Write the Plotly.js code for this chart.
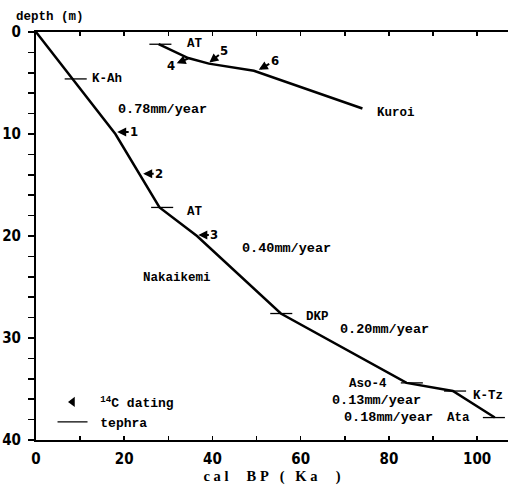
<!DOCTYPE html>
<html>
<head>
<meta charset="utf-8">
<script src="https://cdn.plot.ly/plotly-3.0.1.min.js"></script>
<style>html,body{margin:0;padding:0;background:#fff;}#chart{width:509px;height:490px;}</style>
</head>
<body>
<div id="chart"></div>
<script>
// ---- data ----
const nakaikemiAge   = [0, 18, 28, 36.5, 55.5, 84, 94.5, 104];
const nakaikemiDepth = [0, 10, 17.2, 20, 27.6, 34.4, 35.2, 37.8];
const kuroiAge   = [27.8, 34.5, 39.2, 49.4, 74];
const kuroiDepth = [1.2, 2.55, 3.1, 3.8, 7.5];
const tephraName  = ['AT', 'K-Ah', 'AT', 'DKP', 'Aso-4', 'K-Tz', 'Ata'];
const tephraAge   = [28.2, 9, 28.6, 55.6, 85.2, 95, 103.8];
const tephraDepth = [1.2, 4.6, 17.2, 27.6, 34.4, 35.2, 37.8];
const datingId    = ['1', '2', '3', '4', '5', '6'];
const datingAge   = [18.4, 24.3, 36.8, 34.5, 39.3, 50.5];
const datingDepth = [9.8, 13.9, 19.9, 2.6, 3.0, 3.7];
const rateText  = ['0.78mm/year', '0.40mm/year', '0.20mm/year', '0.13mm/year', '0.18mm/year'];
const siteNames = ['Nakaikemi', 'Kuroi'];
const xTickVals = [0, 10, 20, 30, 40, 50, 60, 70, 80, 90, 100];
const xTickText = ['0', '', '20', '', '40', '', '60', '', '80', '', '100'];
const yTickVals = [0, 2, 4, 6, 8, 10, 12, 14, 16, 18, 20, 22, 24, 26, 28, 30, 32, 34, 36, 38, 40];
const yTickText = ['0', '', '', '', '', '10', '', '', '', '', '20', '', '', '', '', '30', '', '', '', '', '40'];

// ---- styles / placement ----
const mono = 'Liberation Mono, DejaVu Sans Mono, monospace';
const serif = 'Liberation Serif, DejaVu Serif, serif';
const narrow = 'DejaVu Sans Condensed, Liberation Sans, sans-serif';
const labelFont = {family: mono, size: 12.5, color: '#000', weight: 'bold'};
const rateFont = {family: mono, size: 13.5, color: '#000', weight: 'bold'};
const tephraHalf = 2.5;
const tephraShift = [[35, 0], [31, 0], [33, 5], [36, 3], [-44, 1], [33, 5], [-35, 0]];
const datingOffset = [[17, 0], [16, 0], [16, 0], [-17, 7], [15, -12], [16, -9]];
const datingSide = ['end', 'end', 'end', 'start', 'end', 'end'];
const ratePos = [[28.6, 7.55], [56.8, 21.2], [78.9, 29.2], [77.3, 36.1], [80, 37.8]];
const sitePos = [[32, 24.1], [81.6, 7.9]];
const nb = n => '\u00a0'.repeat(n);

// tephra bars built from tephra arrays
const tx = [], ty = [];
tephraAge.forEach((a, i) => { tx.push(a - tephraHalf, a + tephraHalf, null); ty.push(tephraDepth[i], tephraDepth[i], null); });

const traces = [
  {x: nakaikemiAge, y: nakaikemiDepth, mode: 'lines', line: {color: '#000', width: 2.5}, showlegend: false, hoverinfo: 'skip'},
  {x: kuroiAge, y: kuroiDepth, mode: 'lines', line: {color: '#000', width: 2.5}, showlegend: false, hoverinfo: 'skip'},
  {x: tx, y: ty, mode: 'lines', line: {color: '#000', width: 1.3}, showlegend: false, hoverinfo: 'skip'},
  {x: [null], y: [null], mode: 'markers', name: '\u00a0<sup>14</sup>C dating', marker: {symbol: 'triangle-left', size: 9, color: '#000'}},
  {x: [null], y: [null], mode: 'lines', name: '\u00a0tephra', line: {color: '#000', width: 1.3}}
];

const annotations = [];
tephraName.forEach((n, i) => annotations.push({x: tephraAge[i], y: tephraDepth[i], text: n, showarrow: false, xshift: tephraShift[i][0], yshift: -tephraShift[i][1], font: labelFont}));
datingId.forEach((n, i) => annotations.push({x: datingAge[i], y: datingDepth[i], text: n, showarrow: true, arrowhead: 2, arrowside: datingSide[i], startarrowhead: 2, arrowsize: 0.9, startarrowsize: 0.9, arrowwidth: 2, arrowcolor: '#000', ax: datingOffset[i][0], ay: datingOffset[i][1], font: {family: narrow, size: 13, color: '#000', weight: 'bold'}}));
rateText.forEach((t, i) => annotations.push({x: ratePos[i][0], y: ratePos[i][1], text: t, showarrow: false, font: rateFont}));
siteNames.forEach((t, i) => annotations.push({x: sitePos[i][0], y: sitePos[i][1], text: t, showarrow: false, font: labelFont}));
annotations.push({xref: 'paper', yref: 'paper', x: -0.047, y: 1.0, xanchor: 'left', yanchor: 'bottom', yshift: 6, text: 'depth (m)', showarrow: false, font: labelFont});

const layout = {
  width: 509, height: 490,
  margin: {l: 36, r: 1, t: 32, b: 50},
  paper_bgcolor: '#fff', plot_bgcolor: '#fff',
  showlegend: true,
  legend: {x: 0.035, y: 0.13, xanchor: 'left', yanchor: 'top', bgcolor: 'rgba(0,0,0,0)', font: {family: mono, size: 13, color: '#000', weight: 'bold'}, tracegroupgap: 0},
  xaxis: {range: [0, 107], tickvals: xTickVals, ticktext: xTickText, ticks: 'inside', ticklen: 4, tickwidth: 1.5, tickcolor: '#000',
          showline: true, linewidth: 2, linecolor: '#000', mirror: 'ticks', showgrid: false, zeroline: false, ticklabelstandoff: 4,
          tickfont: {family: narrow, size: 15, color: '#000', weight: 'bold'},
          title: {text: 'c' + nb(1) + 'a' + nb(1) + 'l' + nb(5) + 'B' + nb(1) + 'P' + nb(3) + '(' + nb(3) + 'K' + nb(1) + 'a' + nb(5) + ')', standoff: 4, font: {family: serif, size: 14.5, color: '#000', weight: 'bold'}}},
  yaxis: {range: [40, 0], tickvals: yTickVals, ticktext: yTickText, ticks: 'outside', ticklen: 6, tickwidth: 1.5, tickcolor: '#000',
          showline: true, linewidth: 2, linecolor: '#000', showgrid: false, zeroline: false, ticklabelstandoff: 4,
          tickfont: {family: narrow, size: 15, color: '#000', weight: 'bold'}},
  annotations: annotations
};

Plotly.newPlot('chart', traces, layout, {displayModeBar: false, staticPlot: true});
</script>
</body>
</html>
